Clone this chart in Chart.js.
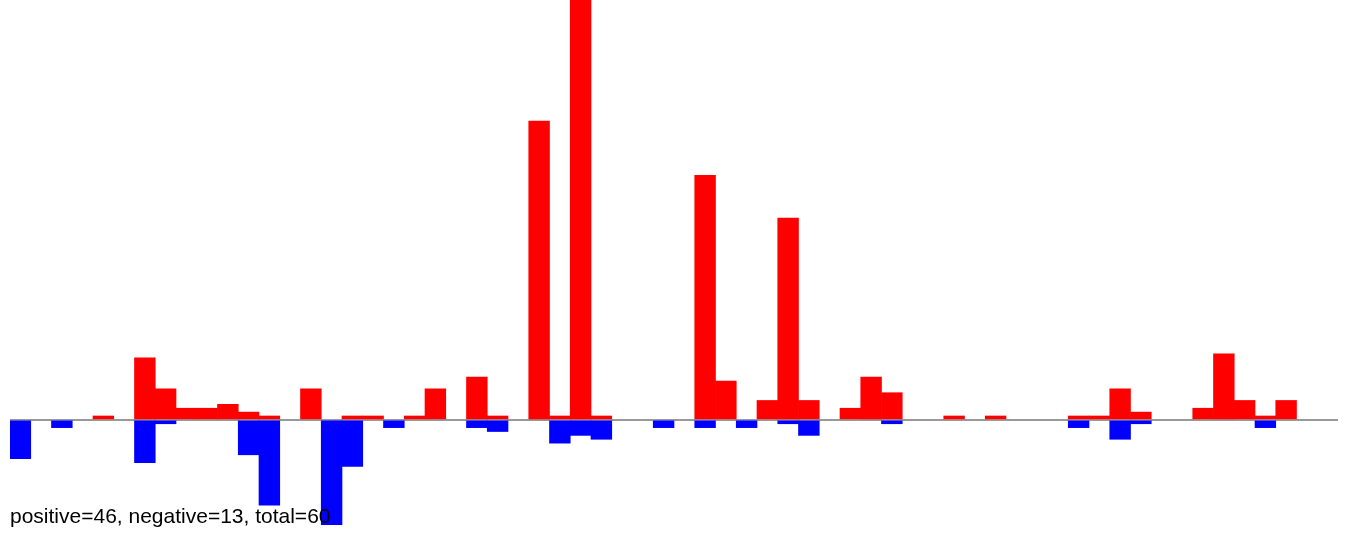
<!DOCTYPE html>
<html>
<head>
<meta charset="utf-8">
<script src="https://cdn.jsdelivr.net/npm/chart.js@4"></script>
<style>
  body { margin: 0; background: #fff; }
  #wrap { position: relative; width: 1350px; height: 539px; }
  #summary {
    position: absolute; left: 10px; top: 505px;
    font: 21px "Liberation Sans", Arial, sans-serif; line-height: 21px;
    color: #000; white-space: nowrap;
  }
</style>
</head>
<body>
<div id="wrap">
  <canvas id="grafico" width="1350" height="539"></canvas>
  <div id="summary">positive=46, negative=13, total=60</div>
</div>
<script>
const labels = Array.from({ length: 64 }, (_, i) => String(i + 1))

// null = no bar in that slot
const positivos = [
  null, null, null, null, 1, null, 16, 8, 3, 3, 4, 2, 1, null, 8, null,
  1, 1, null, 1, 8, null, 11, 1, null, 77, 1, 130, 1, null, null, null,
  null, 63, 10, null, 5, 52, 5, null, 3, 11, 7, null, null, 1, null, 1,
  null, null, null, 1, 1, 8, 2, null, null, 3, 17, 5, 1, 5, null, null
]

const negativos = [
  -10, null, -2, null, null, null, -11, -1, null, null, null, -9, -22, null, null, -27,
  -12, null, -2, null, null, null, -2, -3, null, null, -6, -4, -5, null, null, -2,
  null, -2, null, -2, null, -1, -4, null, null, null, -1, null, null, null, null, null,
  null, null, null, -2, null, -5, -1, null, null, null, null, null, -2, null, null, null
]

const grafico = document.getElementById('grafico')

new Chart(grafico, {
  type: 'bar',
  data: {
    labels: labels,
    datasets: [{
      label: 'positive',
      data: positivos,
      backgroundColor: '#ff0000',
      borderWidth: 0,
      barPercentage: 1,
      categoryPercentage: 1
    },
    {
      label: 'negative',
      data: negativos,
      backgroundColor: '#0000ff',
      borderWidth: 0,
      barPercentage: 1,
      categoryPercentage: 1
    }]
  },
  options: {
    responsive: false,
    animation: false,
    layout: { padding: { left: 10, right: 12, top: 0, bottom: 0 } },
    plugins: {
      legend: { display: false },
      tooltip: { enabled: false }
    },
    scales: {
      x: {
        stacked: true,
        display: false
      },
      y: {
        stacked: true,
        min: -30.7,
        max: 108.2,
        ticks: { display: false, stepSize: 10 },
        border: { display: false },
        grid: {
          drawTicks: false,
          lineWidth: 2,
          color: (ctx) => ctx.tick && ctx.tick.value === 0 ? '#999999' : 'rgba(0,0,0,0)'
        }
      }
    }
  }
})
</script>
</body>
</html>
